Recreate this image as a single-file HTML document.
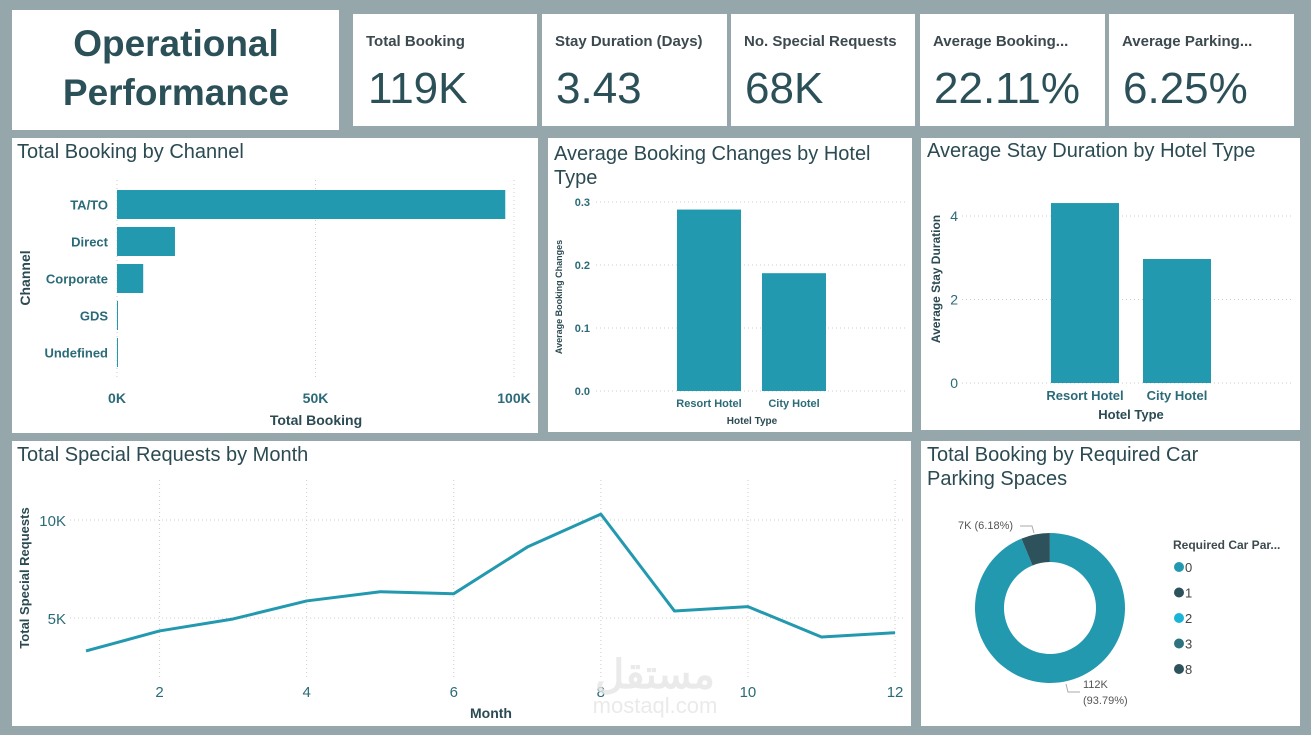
<!DOCTYPE html>
<html><head><meta charset="utf-8"><style>
html,body{margin:0;padding:0;background:#95a7ab;}
svg{display:block;font-family:"Liberation Sans",sans-serif;}
</style></head><body>
<svg id="dash" width="1311" height="735" viewBox="0 0 1311 735" xmlns="http://www.w3.org/2000/svg">
<rect x="0" y="0" width="1311" height="735" fill="#95a7ab"/>
<!-- title -->
<g>
<rect x="12" y="10" width="327" height="120" fill="#fff"/>
<text x="176" y="56" text-anchor="middle" font-size="37" font-weight="bold" fill="#2b5058">Operational</text>
<text x="176" y="105" text-anchor="middle" font-size="37" font-weight="bold" fill="#2b5058">Performance</text>
</g>
<!-- KPI cards -->
<g><rect x="353" y="14" width="184" height="112" fill="#fff"/>
<text x="366" y="46" font-size="15" font-weight="bold" fill="#3c4a4f">Total Booking</text>
<text x="368" y="103" font-size="44" fill="#2b5058">119K</text></g>
<g><rect x="542" y="14" width="185" height="112" fill="#fff"/>
<text x="555" y="46" font-size="15" font-weight="bold" fill="#3c4a4f">Stay Duration (Days)</text>
<text x="556" y="103" font-size="44" fill="#2b5058">3.43</text></g>
<g><rect x="731" y="14" width="184" height="112" fill="#fff"/>
<text x="744" y="46" font-size="15" font-weight="bold" fill="#3c4a4f">No. Special Requests</text>
<text x="745" y="103" font-size="44" fill="#2b5058">68K</text></g>
<g><rect x="920" y="14" width="185" height="112" fill="#fff"/>
<text x="933" y="46" font-size="15" font-weight="bold" fill="#3c4a4f">Average Booking...</text>
<text x="934" y="103" font-size="44" fill="#2b5058">22.11%</text></g>
<g><rect x="1109" y="14" width="185" height="112" fill="#fff"/>
<text x="1122" y="46" font-size="15" font-weight="bold" fill="#3c4a4f">Average Parking...</text>
<text x="1123" y="103" font-size="44" fill="#2b5058">6.25%</text></g>
<!-- panels -->
<rect x="12" y="138" width="526" height="295" fill="#fff"/>
<rect x="548" y="138" width="364" height="294" fill="#fff"/>
<rect x="921" y="138" width="379" height="292" fill="#fff"/>
<rect x="12" y="441" width="899" height="285" fill="#fff"/>
<rect x="921" y="441" width="379" height="285" fill="#fff"/>
<text x="17" y="158" font-size="20" fill="#2b4a52">Total Booking by Channel</text>
<text x="554" y="160" font-size="20" fill="#2b4a52">Average Booking Changes by Hotel</text>
<text x="554" y="184" font-size="20" fill="#2b4a52">Type</text>
<text x="927" y="157" font-size="20" fill="#2b4a52">Average Stay Duration by Hotel Type</text>
<text x="17" y="461" font-size="20" fill="#2b4a52">Total Special Requests by Month</text>
<text x="927" y="461" font-size="20" fill="#2b4a52">Total Booking by Required Car</text>
<text x="927" y="485" font-size="20" fill="#2b4a52">Parking Spaces</text>
<g id="g1"></g><g id="g2"></g><g id="g3"></g><g id="g4"></g><g id="g5"></g>
<text x="655" y="688" text-anchor="middle" font-size="40" font-weight="bold" fill="#e6e6e6" opacity="0.8">مستقل</text>
<text x="655" y="713" text-anchor="middle" font-size="22" fill="#e6e6e6" opacity="0.8">mostaql.com</text>
</svg>
<script>
const channels=["TA/TO","Direct","Corporate","GDS","Undefined"];
const channelBookings=[97800,14600,6600,190,5];
const channelTicks=[0,50000,100000];
const channelTickLabels=["0K","50K","100K"];
const hotelTypes=["Resort Hotel","City Hotel"];
const bookingChanges=[0.288,0.187];
const changeTicks=[0,0.1,0.2,0.3];
const changeTickLabels=["0.0","0.1","0.2","0.3"];
const stayDuration=[4.31,2.97];
const stayTicks=[0,2,4];
const months=[1,2,3,4,5,6,7,8,9,10,11,12];
const specialRequests=[3320,4340,4950,5870,6340,6240,8620,10300,5360,5580,4030,4250];
const monthTicks=[2,4,6,8,10,12];
const requestTicks=[5000,10000];
const requestTickLabels=["5K","10K"];
const parkingCats=["0","1","2","3","8"];
const parkingValues=[111974,7383,28,3,2];
const parkingColors=["#2399b0","#2e525c","#1bb3d6","#2d7480","#2e525c"];

const NS="http://www.w3.org/2000/svg";
const TEAL="#2399b0",LBL="#2b6a78",DARK="#2b4a52";
function mk(parent,tag,attrs,txt){const e=document.createElementNS(NS,tag);for(const k in attrs)e.setAttribute(k,attrs[k]);if(txt!==undefined)e.textContent=txt;parent.appendChild(e);return e;}

// Chart 1: horizontal bars
(function(){const g=document.getElementById('g1');
const x=v=>117+v*(514-117)/100000;const yc=i=>204.5+i*37;
channelTicks.forEach((t,i)=>{const l=mk(g,'line',{x1:x(t),x2:x(t),y1:180,y2:380,stroke:'#ccc','stroke-dasharray':'1,3'});

const tx=mk(g,'text',{x:x(t),y:403,'text-anchor':'middle','font-size':14,'font-weight':'bold',fill:LBL},channelTickLabels[i]);
});
channels.forEach((c,i)=>{const r=mk(g,'rect',{x:x(0),y:yc(i)-14.5,width:Math.max(1,x(channelBookings[i])-x(0)),height:29,fill:TEAL});

const t=mk(g,'text',{x:108,y:yc(i)+5,'text-anchor':'end','font-size':13,'font-weight':'bold',fill:LBL},c);
});
const xt=mk(g,'text',{x:316,y:425,'text-anchor':'middle','font-size':14,'font-weight':'bold',fill:DARK},'Total Booking');

const yt=mk(g,'text',{x:0,y:0,transform:'translate(30,278) rotate(-90)','text-anchor':'middle','font-size':14,'font-weight':'bold',fill:DARK},'Channel');
})();

// Chart 2: booking changes
(function(){const g=document.getElementById('g2');
const y=v=>391-v*630;const xs=[709,794];
changeTicks.forEach((t,i)=>{const l=mk(g,'line',{x1:596,x2:905,y1:y(t),y2:y(t),stroke:'#ccc','stroke-dasharray':'1,3'});

const tx=mk(g,'text',{x:590,y:y(t)+4,'text-anchor':'end','font-size':11,'font-weight':'bold',fill:LBL},changeTickLabels[i]);
});
hotelTypes.forEach((h,i)=>{const r=mk(g,'rect',{x:xs[i]-32,y:y(bookingChanges[i]),width:64,height:y(0)-y(bookingChanges[i]),fill:TEAL});

const t=mk(g,'text',{x:xs[i],y:407,'text-anchor':'middle','font-size':11,'font-weight':'bold',fill:LBL},h);
});
const xt=mk(g,'text',{x:752,y:424,'text-anchor':'middle','font-size':10,'font-weight':'bold',fill:DARK},'Hotel Type');

const yt=mk(g,'text',{x:0,y:0,transform:'translate(562,297) rotate(-90)','text-anchor':'middle','font-size':9,'font-weight':'bold',fill:DARK},'Average Booking Changes');
})();

// Chart 3: stay duration
(function(){const g=document.getElementById('g3');
const y=v=>383-v*41.75;const xs=[1085,1177];
stayTicks.forEach(t=>{const l=mk(g,'line',{x1:962,x2:1292,y1:y(t),y2:y(t),stroke:'#ccc','stroke-dasharray':'1,3'});

const tx=mk(g,'text',{x:958,y:y(t)+5,'text-anchor':'end','font-size':14,fill:LBL},String(t));
});
hotelTypes.forEach((h,i)=>{const r=mk(g,'rect',{x:xs[i]-34,y:y(stayDuration[i]),width:68,height:y(0)-y(stayDuration[i]),fill:TEAL});

const t=mk(g,'text',{x:xs[i],y:400,'text-anchor':'middle','font-size':13,'font-weight':'bold',fill:LBL},h);
});
const xt=mk(g,'text',{x:1131,y:419,'text-anchor':'middle','font-size':13,'font-weight':'bold',fill:DARK},'Hotel Type');

const yt=mk(g,'text',{x:0,y:0,transform:'translate(940,279) rotate(-90)','text-anchor':'middle','font-size':12,'font-weight':'bold',fill:DARK},'Average Stay Duration');
})();

// Chart 4: line
(function(){const g=document.getElementById('g4');
const x=m=>86+(m-1)*73.55;const y=v=>618-(v-5000)*0.0196;
monthTicks.forEach(m=>{const l=mk(g,'line',{x1:x(m),x2:x(m),y1:480,y2:680,stroke:'#ccc','stroke-dasharray':'1,3'});

const t=mk(g,'text',{x:x(m),y:697,'text-anchor':'middle','font-size':15,fill:LBL},String(m));
});
requestTicks.forEach((v,i)=>{const l=mk(g,'line',{x1:70,x2:905,y1:y(v),y2:y(v),stroke:'#ccc','stroke-dasharray':'1,3'});

const t=mk(g,'text',{x:66,y:y(v)+6,'text-anchor':'end','font-size':15,fill:LBL},requestTickLabels[i]);
});
const p=mk(g,'polyline',{points:months.map((m,i)=>x(m)+','+y(specialRequests[i])).join(' '),fill:'none',stroke:TEAL,'stroke-width':3,'stroke-linejoin':'round'});

const xt=mk(g,'text',{x:491,y:718,'text-anchor':'middle','font-size':14,'font-weight':'bold',fill:DARK},'Month');

const yt=mk(g,'text',{x:0,y:0,transform:'translate(29,578) rotate(-90)','text-anchor':'middle','font-size':13,'font-weight':'bold',fill:DARK},'Total Special Requests');
})();

// Chart 5: donut
(function(){const g=document.getElementById('g5');
const cx=1050,cy=608,R=75,r=46;const tot=parkingValues.reduce((a,b)=>a+b,0);let a0=0;
parkingValues.forEach((v,i)=>{const a1=a0+v/tot*2*Math.PI;
const pt=(rad,a)=>[cx+rad*Math.sin(a),cy-rad*Math.cos(a)];const lg=(a1-a0)>Math.PI?1:0;
const [x1,y1]=pt(R,a0),[x2,y2]=pt(R,a1),[x3,y3]=pt(r,a1),[x4,y4]=pt(r,a0);
const s=mk(g,'path',{d:`M${x1},${y1}A${R},${R} 0 ${lg} 1 ${x2},${y2}L${x3},${y3}A${r},${r} 0 ${lg} 0 ${x4},${y4}Z`,fill:parkingColors[i]});
a0=a1;});
const f=n=>Math.round(n/1000)+'K';
const l1=mk(g,'text',{x:958,y:529,'font-size':11,fill:'#555'},f(parkingValues[1])+' ('+(parkingValues[1]/tot*100).toFixed(2)+'%)');

mk(g,'polyline',{points:'1020,526 1032,526 1034,533',fill:'none',stroke:'#aaa'});
mk(g,'polyline',{points:'1066,684 1068,692 1080,692',fill:'none',stroke:'#aaa'});
const l2=mk(g,'text',{x:1083,y:688,'font-size':11,fill:'#555'},f(parkingValues[0]));

const l3=mk(g,'text',{x:1083,y:704,'font-size':11,fill:'#555'},'('+(parkingValues[0]/tot*100).toFixed(2)+'%)');

const lt=mk(g,'text',{x:1173,y:549,'font-size':12,'font-weight':'bold',fill:'#3c4a4f'},'Required Car Par...');

parkingCats.forEach((c,i)=>{const yy=567+i*25.5;
const d=mk(g,'circle',{cx:1179,cy:yy,r:5,fill:parkingColors[i]});

const t=mk(g,'text',{x:1185,y:yy+5,'font-size':13,fill:'#444'},c);
});})();
</script>
</body></html>
